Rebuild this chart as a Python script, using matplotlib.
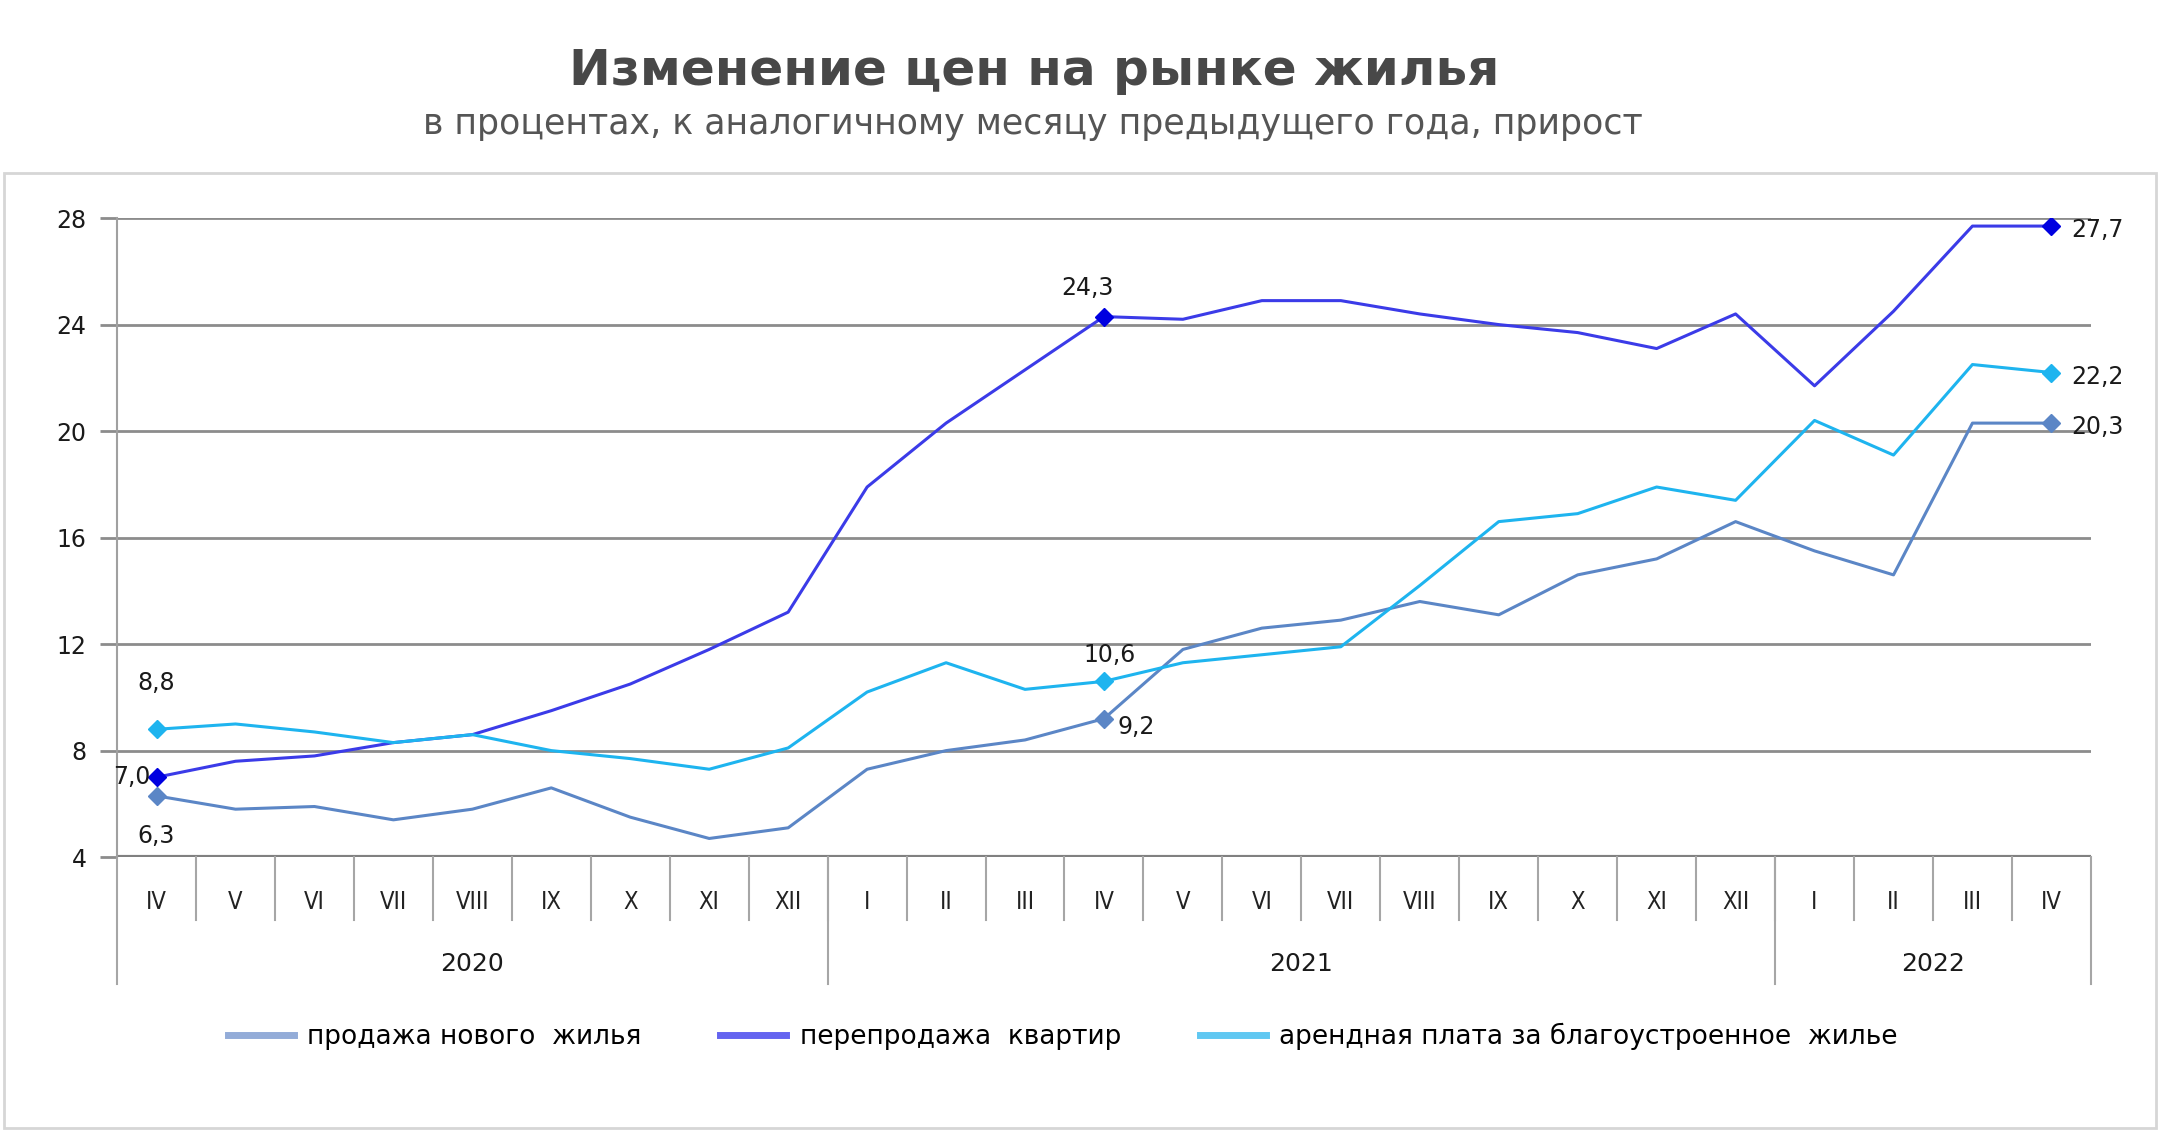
import matplotlib.pyplot as plt
from matplotlib.patches import Rectangle

# months from IV 2020 to IV 2022
months = ["IV", "V", "VI", "VII", "VIII", "IX", "X", "XI", "XII",
          "I", "II", "III", "IV", "V", "VI", "VII", "VIII", "IX", "X", "XI", "XII",
          "I", "II", "III", "IV"]
years = ["2020", "2021", "2022"]
year_counts = [9, 12, 4]

new_housing = [6.3, 5.8, 5.9, 5.4, 5.8, 6.6, 5.5, 4.7, 5.1,
               7.3, 8.0, 8.4, 9.2, 11.8, 12.6, 12.9, 13.6, 13.1, 14.6, 15.2, 16.6,
               15.5, 14.6, 20.3, 20.3]
resale = [7.0, 7.6, 7.8, 8.3, 8.6, 9.5, 10.5, 11.8, 13.2,
          17.9, 20.3, 22.3, 24.3, 24.2, 24.9, 24.9, 24.4, 24.0, 23.7, 23.1, 24.4,
          21.7, 24.5, 27.7, 27.7]
rent = [8.8, 9.0, 8.7, 8.3, 8.6, 8.0, 7.7, 7.3, 8.1,
        10.2, 11.3, 10.3, 10.6, 11.3, 11.6, 11.9, 14.2, 16.6, 16.9, 17.9, 17.4,
        20.4, 19.1, 22.5, 22.2]

series_names = ["продажа нового  жилья", "перепродажа  квартир",
                "арендная плата за благоустроенное  жилье"]
labeled_idx = [0, 12, 24]

c_new = "#5b86c6"
c_resale = "#3b3be8"
c_rent = "#1eb4ef"

fig = plt.figure(figsize=(21.6, 11.3), dpi=100)
fig.patches.append(Rectangle((0.002, 0.002), 0.996, 0.845, transform=fig.transFigure,
                             fill=False, edgecolor="#d6d6d6", linewidth=2))

fig.text(0.479, 0.937, "Изменение цен на рынке жилья", ha="center", va="center",
         fontsize=36, fontweight="bold", color="#484848")
fig.text(0.478, 0.89, "в процентах, к аналогичному месяцу предыдущего года, прирост",
         ha="center", va="center", fontsize=25, color="#555555")

ax = fig.add_axes([0.0542, 0.2415, 0.9138, 0.5655])
x = list(range(len(months)))

l1, = ax.plot(x, new_housing, color=c_new, lw=2.2)
l2, = ax.plot(x, resale, color=c_resale, lw=2.2)
l3, = ax.plot(x, rent, color=c_rent, lw=2.2)

ax.plot([x[i] for i in labeled_idx], [new_housing[i] for i in labeled_idx], "D",
        color=c_new, ms=9, ls="none")
ax.plot([x[i] for i in labeled_idx], [resale[i] for i in labeled_idx], "D",
        color="#0000e0", ms=9, ls="none")
ax.plot([x[i] for i in labeled_idx], [rent[i] for i in labeled_idx], "D",
        color=c_rent, ms=9, ls="none")


def fmt(v):
    return f"{v:.1f}".replace(".", ",")


lab_kw = dict(textcoords="offset points", fontsize=17, color="#1a1a1a")
# first month
ax.annotate(fmt(rent[0]), (0, rent[0]), xytext=(0, 28), ha="center", **lab_kw)
ax.annotate(fmt(resale[0]), (0, resale[0]), xytext=(-4, 0), ha="right", va="center", **lab_kw)
ax.annotate(fmt(new_housing[0]), (0, new_housing[0]), xytext=(0, -20), ha="center", va="top", **lab_kw)
# April 2021
ax.annotate(fmt(resale[12]), (12, resale[12]), xytext=(-12, 12), ha="center", va="bottom", **lab_kw)
ax.annotate(fmt(rent[12]), (12, rent[12]), xytext=(4, 10), ha="center", va="bottom", **lab_kw)
ax.annotate(fmt(new_housing[12]), (12, new_housing[12]), xytext=(10, -6), ha="left", va="center", **lab_kw)
# April 2022
for s in (resale, rent, new_housing):
    ax.annotate(fmt(s[24]), (24, s[24]), xytext=(14, -3), ha="left", va="center", **lab_kw)

ax.set_xlim(-0.5, 24.5)
ax.set_ylim(4, 28)
ax.set_yticks(range(4, 29, 4))
ax.yaxis.grid(True, color="#8c8c8c", lw=2)
ax.set_axisbelow(True)
for side in ("top", "right", "bottom"):
    ax.spines[side].set_visible(False)
ax.spines["left"].set_color("#a0a0a0")
ax.spines["left"].set_linewidth(1.5)
ax.axhline(4, color="#808080", lw=3, zorder=1)
ax.tick_params(axis="y", length=12, width=2, color="#8c8c8c", labelsize=17,
               labelcolor="#1a1a1a", pad=10)
ax.set_xticks([])

# category axis: months and years
trans = ax.get_xaxis_transform()
for i, m in enumerate(months):
    ax.text(i, -0.071, m, transform=trans, ha="center", va="center",
            fontsize=17, color="#222222", fontstretch="condensed")
for i in range(1, len(months)):
    ax.plot([i - 0.5, i - 0.5], [0, -0.099], transform=trans, color="#a6a6a6",
            lw=1.5, clip_on=False)
start = -0.5
for y, n in zip(years, year_counts):
    ax.plot([start, start], [0, -0.198], transform=trans, color="#a6a6a6",
            lw=1.5, clip_on=False)
    ax.text(start + n / 2, -0.168, y, transform=trans, ha="center", va="center",
            fontsize=18, color="#1a1a1a")
    start += n
ax.plot([start, start], [0, -0.198], transform=trans, color="#a6a6a6",
        lw=1.5, clip_on=False)

leg = fig.legend([l1, l2, l3], series_names, loc="center", bbox_to_anchor=(0.492, 0.083),
                 ncol=3, frameon=False, fontsize=19, handlelength=2.5, columnspacing=3.0,
                 handletextpad=0.5)
for lh, col in zip(leg.get_lines(), ["#93acd8", "#6464f0", "#60c8f2"]):
    lh.set_linewidth(5)
    lh.set_color(col)

fig.savefig("out.png", dpi=100, facecolor="white")
